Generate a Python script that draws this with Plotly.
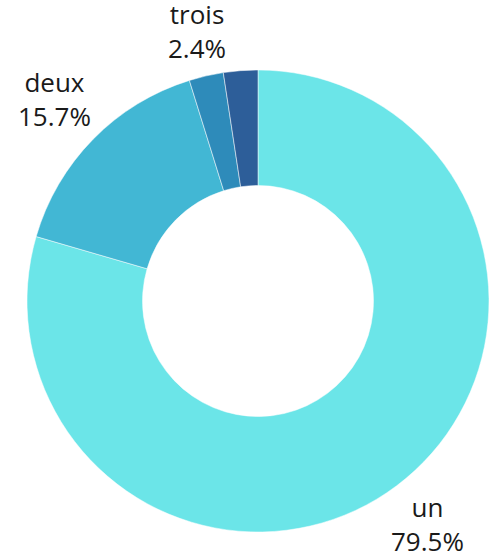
import numpy as np
import plotly.graph_objects as go

labels = ['un', 'deux', 'trois', 'quatre']
values = [79.5, 15.7, 2.4, 2.4]
colors = ['#6BE5E8', '#42B7D4', '#2E8BBA', '#2D5E99']
show_label = [True, True, True, False]

# plot area in pixels (square)
side = 462
font_size = 26

fig = go.Figure(
    go.Pie(
        labels=labels, values=values, hole=0.5, sort=False, direction='clockwise', rotation=0,
        marker=dict(colors=colors, line=dict(color='white', width=0.5)),
        textinfo='none', showlegend=False, hoverinfo='label+percent',
    )
)

# outside labels: box pushed out along the slice middle, just clear of the ring
total = sum(values)
start = np.cumsum([0] + values[:-1])
for lab, val, st, show in zip(labels, values, start, show_label):
    if not show:
        continue
    ang = (st + val / 2) / total * 2 * np.pi
    dx, dy = np.sin(ang), np.cos(ang)
    pct = f'{val / total * 100:.1f}%'
    half_w = max(len(lab), len(pct)) * 0.55 * font_size / 2
    half_h = 2 * 1.3 * font_size / 2 * 0.72
    dist = side / 2 + 11 + abs(dx) * half_w + abs(dy) * half_h
    fig.add_annotation(
        x=0.5 + dist * dx / side, y=0.5 + dist * dy / side, xref='paper', yref='paper',
        text=f'{lab}<br>{pct}', showarrow=False, xanchor='center', yanchor='middle', yshift=3,
        font=dict(family='Open Sans', size=font_size, color='#1a1a1a'),
    )

fig.update_layout(
    width=499, height=556,
    margin=dict(l=27, r=10, t=70, b=24),
    paper_bgcolor='white', plot_bgcolor='white',
)

# drop the default page margin so the figure fills the window
fig.write_html(
    'out.html', config={'displayModeBar': False},
    post_script="document.body.style.margin = '0';",
)
